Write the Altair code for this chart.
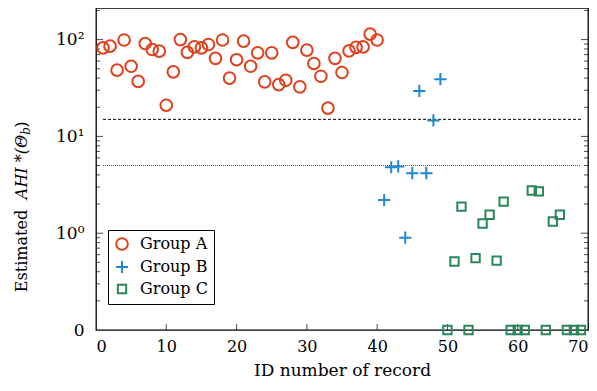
import altair as alt
import pandas as pd

# ---------------- data ----------------
groupA_x = list(range(1, 41))
groupA_y = [82, 85.6, 48.3, 99, 53, 37, 91, 79, 76, 21,
            46.4, 100, 73.7, 84, 82, 89, 64, 99, 40, 62,
            96.5, 53, 73, 36.6, 73, 34.3, 38, 93.5, 32.5, 77.8,
            56.7, 41.8, 19.6, 64, 45.7, 76.5, 83, 84, 114, 99]

groupB_x = [41, 42, 43, 44, 45, 46, 47, 48, 49]
groupB_y = [2.2, 4.8, 4.9, 0.9, 4.17, 29.5, 4.17, 14.6, 39]

groupC_x = list(range(50, 70))
groupC_y = [0, 0.51, 1.88, 0, 0.553, 1.26, 1.55, 0.52, 2.12, 0,
            0, 0, 2.76, 2.7, 0, 1.32, 1.55, 0, 0, 0]

groups = ["Group A", "Group B", "Group C"]
colors = ["#e0401c", "#1f88d0", "#2a875a"]
plus_path = "M-1,0H1M0,-1V1"
shapes = ["circle", plus_path, "square"]
sizes = [135, 150, 70]

thr_y = [15, 5]
thr_x1 = [1, 1]
thr_x2 = [69, 69]

x_ticks = [0, 10, 20, 30, 40, 50, 60, 70]
y_label_vals = [0.1, 1, 10, 100]
y_major = [1, 10, 100]
y_minor = [0.2, 0.3, 0.4, 0.5, 0.6, 0.7, 0.8, 0.9,
           2, 3, 4, 5, 6, 7, 8, 9,
           20, 30, 40, 50, 60, 70, 80, 90, 200]
x_minor_ticks = [10, 20, 30, 40, 50, 60]

ZERO = 0.1  # where zero values are drawn (bottom of the log axis)

W, H = 492, 322
FONT = "DejaVu Serif"
FS = 16

rows = []
for g, xs, ys in [("Group A", groupA_x, groupA_y),
                  ("Group B", groupB_x, groupB_y),
                  ("Group C", groupC_x, groupC_y)]:
    for xv, yv in zip(xs, ys):
        rows.append({"group": g, "id": xv, "ahi": yv})
df = pd.DataFrame(rows)

xscale = alt.Scale(domain=[0, 70], nice=False, zero=False)
yscale = alt.Scale(type="log", domain=[0.1, 212], nice=False)

ylabel_expr = ("datum.value < 0.5 ? '0' : datum.value < 5 ? '10\u2070' : "
               "datum.value < 50 ? '10\u00b9' : '10\u00b2'")

points = alt.Chart(df).transform_calculate(
    yplot=f"max(datum.ahi, {ZERO})"
).mark_point(filled=False, strokeWidth=2, opacity=1).encode(
    x=alt.X("id:Q", scale=xscale,
            axis=alt.Axis(values=x_ticks, ticks=False, domain=False, grid=False,
                          labelFont=FONT, labelFontSize=FS, labelColor="black",
                          labelPadding=8, format="d",
                          title="ID number of record", titleFont=FONT,
                          titleFontSize=FS + 1, titleFontWeight="normal",
                          titleColor="black", titlePadding=8)),
    y=alt.Y("yplot:Q", scale=yscale,
            axis=alt.Axis(values=y_label_vals, labelExpr=ylabel_expr,
                          ticks=False, domain=False, grid=False,
                          labelFont=FONT, labelFontSize=FS + 1, labelColor="black",
                          labelPadding=12, title=None)),
    color=alt.Color("group:N", scale=alt.Scale(domain=groups, range=colors),
                    legend=alt.Legend(title=None, orient="none", legendX=12, legendY=222,
                                      labelFont=FONT, labelFontSize=FS, labelColor="black",
                                      strokeColor="black", fillColor="white",
                                      padding=6, rowPadding=2, labelOffset=10,
                                      symbolStrokeWidth=2,
                                      labelExpr="datum.label + ' '")),
    shape=alt.Shape("group:N", scale=alt.Scale(domain=groups, range=shapes)),
    size=alt.Size("group:N", scale=alt.Scale(type="ordinal", domain=groups, range=sizes)),
)

thr = pd.DataFrame({"y": thr_y, "x1": thr_x1, "x2": thr_x2, "k": [0, 1]})
rule_hi = alt.Chart(thr).transform_filter("datum.k == 0").mark_rule(
    color="black", strokeWidth=1, strokeDash=[3, 2]
).encode(x=alt.X("x1:Q", scale=xscale), x2="x2:Q", y=alt.Y("y:Q", scale=yscale))
rule_lo = alt.Chart(thr).transform_filter("datum.k == 1").mark_rule(
    color="#555555", strokeWidth=1, strokeDash=[1, 1]
).encode(x=alt.X("x1:Q", scale=xscale), x2="x2:Q", y=alt.Y("y:Q", scale=yscale))

ymin_df = pd.DataFrame({"v": y_minor})
ymaj_df = pd.DataFrame({"v": y_major})
xt_df = pd.DataFrame({"v": x_minor_ticks})

def ytick(d, length, xpos):
    return alt.Chart(d).mark_tick(orient="horizontal", color="black", thickness=1,
                                  size=length).encode(
        y=alt.Y("v:Q", scale=yscale), x=alt.value(xpos))

tick_layers = [
    ytick(ymin_df, 4, 2), ytick(ymaj_df, 7, 3.5),
    ytick(ymin_df, 4, W - 2), ytick(ymaj_df, 7, W - 3.5),
    alt.Chart(xt_df).mark_tick(orient="vertical", color="black", thickness=1, size=6).encode(
        x=alt.X("v:Q", scale=xscale), y=alt.value(H - 3)),
]

def ytitle(text, ypos, xpos=-74, size=FS, style="normal"):
    return alt.Chart(pd.DataFrame({"t": [text]})).mark_text(
        angle=270, align="center", baseline="middle", font=FONT, fontSize=size,
        fontStyle=style, color="black").encode(
        text="t:N", x=alt.value(xpos), y=alt.value(ypos))

titles = [
    ytitle("Estimated", 243),
    ytitle("AHI *(\u0398", 159, style="italic"),
    ytitle("b", 123, xpos=-70, size=12, style="italic"),
    ytitle(")", 116.5),
]

chart = alt.layer(rule_hi, rule_lo, *tick_layers, points, *titles).properties(
    width=W, height=H,
    autosize=alt.AutoSizeParams(type="none"),
    padding={"left": 88, "top": 0, "right": 1, "bottom": 53},
    background="white",
).configure_view(stroke="black", strokeWidth=1.3)

chart.save("out.html", embed_options={"renderer": "svg", "actions": False})
